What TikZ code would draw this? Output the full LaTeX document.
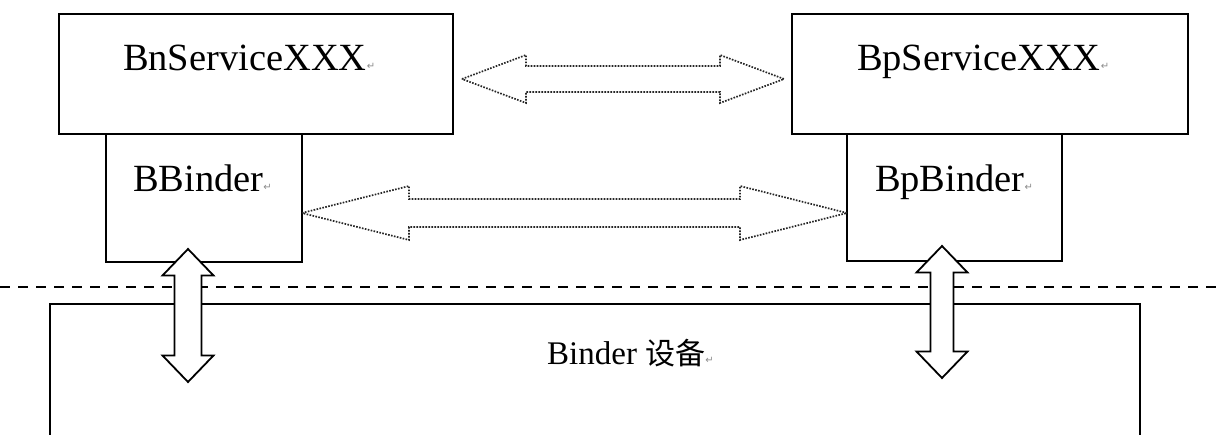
\documentclass[tikz,border=0pt]{standalone}
\usepackage{fontspec}
\setmainfont{Liberation Serif}
\newfontfamily\cjk{Noto Sans CJK SC}
\newfontfamily\dejavu{DejaVu Sans}
\newcommand\retmark{{\dejavu\fontsize{10}{10}\selectfont\color{black!45}\raisebox{1pt}{↵}}}
\newcommand\harrow[6]{\draw[#1] (#2) -- ([xshift=#6pt,yshift=#5pt]#2) -- ([xshift=#6pt,yshift=#4pt]#2) -- ([xshift=-#6pt,yshift=#4pt]#3) -- ([xshift=-#6pt,yshift=#5pt]#3) -- (#3) -- ([xshift=-#6pt,yshift=-#5pt]#3) -- ([xshift=-#6pt,yshift=-#4pt]#3) -- ([xshift=#6pt,yshift=-#4pt]#2) -- ([xshift=#6pt,yshift=-#5pt]#2) -- cycle;}
\newcommand\varrow[6]{\draw[#1] (#2) -- ([xshift=#5pt,yshift=-#6pt]#2) -- ([xshift=#4pt,yshift=-#6pt]#2) -- ([xshift=#4pt,yshift=#6pt]#3) -- ([xshift=#5pt,yshift=#6pt]#3) -- (#3) -- ([xshift=-#5pt,yshift=#6pt]#3) -- ([xshift=-#4pt,yshift=#6pt]#3) -- ([xshift=-#4pt,yshift=-#6pt]#2) -- ([xshift=-#5pt,yshift=-#6pt]#2) -- cycle;}
\begin{document}
\begin{tikzpicture}[x=1pt,y=-1pt,
  box/.style={draw=black, line width=1.8pt, inner sep=0pt, outer sep=0pt, fill=white},
  lbl/.style={anchor=base west, inner sep=0pt, outer sep=0pt, font=\fontsize{38.5}{40}\selectfont},
  dotarrow/.style={draw=black!85, line width=1.7pt, dash pattern=on 1.6pt off 1.4pt, line join=miter},
  fatarrow/.style={draw=black, fill=white, line width=1.8pt, line join=miter},
  sep/.style={draw=black, line width=2pt, dash pattern=on 10pt off 8pt}]
\useasboundingbox (0,0) rectangle (1218,435);
\fill[white] (0,0) rectangle (1218,435);
% boxes
\node[box, minimum width=394pt, minimum height=120pt] (bn) at (256,74) {};
\node[box, minimum width=196pt, minimum height=128pt] (bb) at (204,198) {};
\node[box, minimum width=396pt, minimum height=120pt] (bp) at (990,74) {};
\node[box, minimum width=215pt, minimum height=127pt] (bpb) at (954.5,197.5) {};
% labels
\node[lbl] (bnt) at (123,71) {BnServiceXXX\retmark};
\node[lbl] (bbt) at (133,192) {BBinder\retmark};
\node[lbl] (bpt) at (857,71) {BpServiceXXX\retmark};
\node[lbl] (bpbt) at (875,192) {BpBinder\retmark};
% dashed separator
\coordinate (sepl) at (0,287);
\coordinate (sepr) at (1218,287);
\draw[sep] (sepl) -- (sepr);
% binder device box (open at bottom)
\node[minimum width=1090pt, minimum height=131pt, inner sep=0pt, outer sep=0pt] (dev) at (595,369.5) {};
\draw[line width=1.8pt] (dev.south west) -- (dev.north west) -- (dev.north east) -- (dev.south east);
\node[anchor=base west, inner sep=0pt, font=\fontsize{33}{35}\selectfont] (devt) at (547,365) {Binder\hspace{0.25em}{\cjk\fontsize{30}{32}\selectfont 设备}\retmark};
% dotted double arrows
\coordinate (a1l) at (462,79);
\coordinate (a1r) at (784,79);
\harrow{dotarrow}{a1l}{a1r}{13}{24}{64}
\coordinate (a2l) at (bb.east |- 0,213);
\coordinate (a2r) at (bpb.west |- 0,213);
\harrow{dotarrow}{a2l}{a2r}{14}{27}{107}
% vertical fat double arrows
\coordinate (v1t) at (188,249);
\coordinate (v1b) at (188,382);
\varrow{fatarrow}{v1t}{v1b}{13.5}{25.5}{26.5}
\coordinate (v2t) at (942,246);
\coordinate (v2b) at (942,378);
\varrow{fatarrow}{v2t}{v2b}{11.5}{25.5}{26.5}
\end{tikzpicture}
\end{document}
